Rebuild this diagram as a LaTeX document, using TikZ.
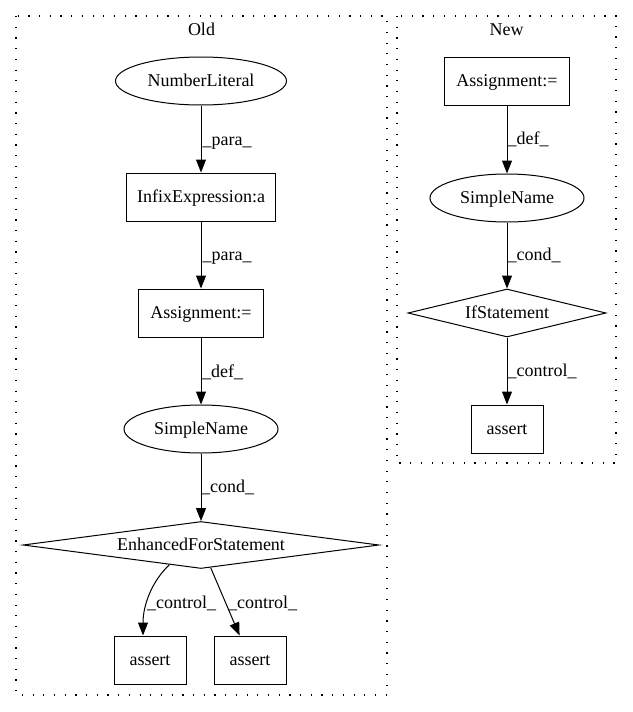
\documentclass[tikz,border=0pt]{standalone}
\usepackage{fontspec}
\setmainfont{Liberation Serif}
\usetikzlibrary{shapes.geometric,arrows.meta}
\begin{document}
\begin{tikzpicture}[x=1pt,y=-1pt,
  every node/.style={font=\fontsize{18}{21}\selectfont},
  base/.style={draw,line width=1pt,inner sep=0pt,text height=12pt,text depth=2pt},
  box/.style={base,rectangle,minimum height=48pt},
  oval/.style={base,ellipse,minimum height=48pt},
  dia/.style={base,diamond,minimum height=48pt},
  edge/.style={line width=1pt,-{Triangle[length=13pt,width=10pt]}},
  lbl/.style={anchor=west,inner sep=0pt,text height=12pt,text depth=2pt},
  clusterbox/.style={line width=1.2pt,dash pattern=on 1.2pt off 9.5pt}]
\useasboundingbox (0,0) rectangle (632,712);
% clusters
\draw[clusterbox] (16,16) rectangle (387,695);
\draw[clusterbox] (397,16) rectangle (616,463);
\node[inner sep=0pt,text height=12pt,text depth=2pt] (oldlbl) at (201.5,30) {Old};
\node[inner sep=0pt,text height=12pt,text depth=2pt] (newlbl) at (506.5,30) {New};
% Old nodes
\node[oval,minimum width=171pt] (num) at (201,81) {NumberLiteral};
\node[box,minimum width=149pt] (infix) at (201,197) {InfixExpression:a};
\node[box,minimum width=125pt] (asgO) at (201,313) {Assignment:=};
\node[oval,minimum width=154pt] (snO) at (201,429) {SimpleName};
\node[dia,aspect=7.5,minimum width=356pt,minimum height=47pt] (efs) at (201,545) {EnhancedForStatement};
\node[box,minimum width=72pt] (aL) at (150,660) {assert};
\node[box,minimum width=72pt] (aR) at (250,660) {assert};
% New nodes
\node[box,minimum width=125pt] (asgN) at (507,81) {Assignment:=};
\node[oval,minimum width=154pt] (snN) at (507,198) {SimpleName};
\node[dia,aspect=4.1,minimum width=198pt] (ifs) at (507,313) {IfStatement};
\node[box,minimum width=72pt] (aN) at (507,429) {assert};
% Old edges
\draw[edge] (num) -- (infix);
\draw[edge] (infix) -- (asgO);
\draw[edge] (asgO) -- (snO);
\draw[edge] (snO) -- (efs);
\draw[edge] (efs.212) .. controls (152,581) and (143,605) .. ([xshift=-7pt]aL.north);
\draw[edge] (efs) -- (aR);
% New edges
\draw[edge] (asgN) -- (snN);
\draw[edge] (snN) -- (ifs);
\draw[edge] (ifs) -- (aN);
% edge labels
\node[lbl] (l1) at (202.5,140) {\_para\_};
\node[lbl] (l2) at (202.5,255) {\_para\_};
\node[lbl] (l3) at (202,372) {\_def\_};
\node[lbl] (l4) at (201,487) {\_cond\_};
\node[lbl] (l5) at (147,603) {\_control\_};
\node[lbl] (l6) at (228,603) {\_control\_};
\node[lbl] (l7) at (507.5,139) {\_def\_};
\node[lbl] (l8) at (507.5,255) {\_cond\_};
\node[lbl] (l9) at (507.5,371) {\_control\_};
\end{tikzpicture}
\end{document}
